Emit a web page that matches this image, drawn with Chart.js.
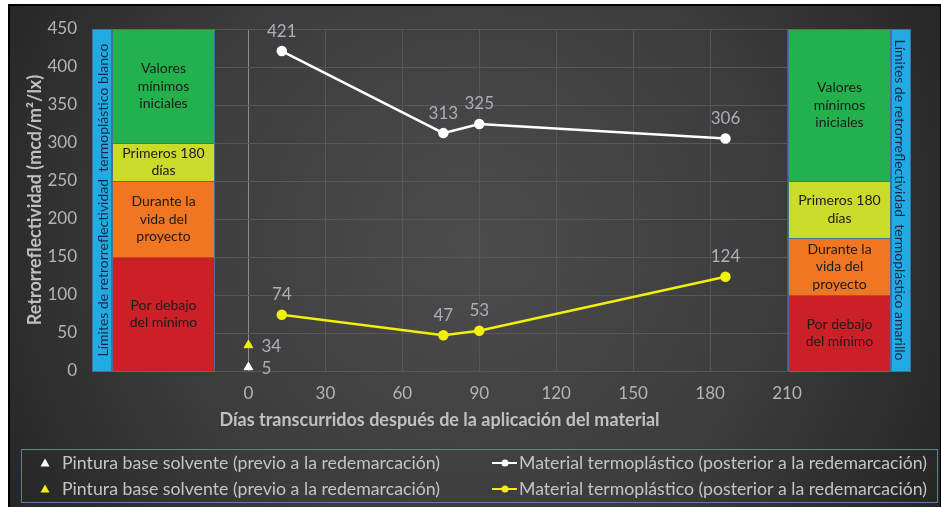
<!DOCTYPE html>
<html>
<head>
<meta charset="utf-8">
<title>Retrorreflectividad</title>
<script src="https://cdn.jsdelivr.net/npm/chart.js@4.4.0/dist/chart.umd.min.js"></script>
<style>
  html, body { margin: 0; padding: 0; background: #ffffff; }
  #wrap { width: 941px; height: 507px; }
</style>
</head>
<body>
<div id="wrap"><canvas id="chart" width="941" height="507"></canvas></div>
<script>
// ---- data ----
const dayTicks = [0, 30, 60, 90, 120, 150, 180, 210];
const valueTicks = [0, 50, 100, 150, 200, 250, 300, 350, 400, 450];
const measureDays = [13, 76, 90, 186];
const whiteThermo = [421, 313, 325, 306];
const yellowThermo = [74, 47, 53, 124];
const paintDays = [0];
const whitePaint = [5];
const yellowPaint = [34];

// limit bands (bottom → top) for each thermoplastic colour
const bandNames = ['Por debajo\ndel mínimo', 'Durante la\nvida del\nproyecto', 'Primeros 180\ndías', 'Valores\nmínimos\niniciales'];
const whiteBandLimits = [0, 150, 250, 300, 450];
const yellowBandLimits = [0, 100, 175, 250, 450];
const whiteBandTitle = 'Límites de retrorreflectividad  termoplástico blanco';
const yellowBandTitle = 'Límites de retrorreflectividad  termoplástico amarillo';

const paintLabel = 'Pintura base solvente (previo a la redemarcación)';
const thermoLabel = 'Material termoplástico (posterior a la redemarcación)';

// ---- styles ----
const FONT = 'Lato, "Open Sans", sans-serif';
const WHITE = '#ffffff';
const YELLOW = '#f0f00a';
const TICK_COLOR = '#b4b4b4';
const bandColors = ['#cb2027', '#f07622', '#cbdb2a', '#22b14c'];
const stripColor = '#22abe2';
const edgeColor = '#4a6f96';

const pts = (xs, ys) => xs.map((x, i) => ({ x: x, y: ys[i] }));

// dark backdrop with frame
const backdrop = {
  id: 'backdrop',
  beforeDraw(chart) {
    const { ctx, width, height } = chart;
    ctx.save();
    ctx.fillStyle = '#ffffff';
    ctx.fillRect(0, 0, width, height);
    const g = ctx.createRadialGradient(470, 240, 0, 470, 240, 560);
    g.addColorStop(0, '#4c4c4c');
    g.addColorStop(0.55, '#3c3c3c');
    g.addColorStop(1, '#232323');
    ctx.fillStyle = g;
    ctx.fillRect(8, 4, width - 8, height - 4);
    ctx.strokeStyle = '#000000';
    ctx.lineWidth = 2;
    ctx.strokeRect(9, 5, width - 9, height - 4);
    ctx.restore();
  }
};

function drawBands(ctx, yScale, x0, w, limits) {
  for (let i = 0; i < bandNames.length; i++) {
    const top = yScale.getPixelForValue(limits[i + 1]);
    const bot = yScale.getPixelForValue(limits[i]);
    ctx.fillStyle = bandColors[i];
    ctx.fillRect(x0, top, w, bot - top);
    ctx.strokeStyle = edgeColor;
    ctx.lineWidth = 1;
    ctx.strokeRect(x0 + 0.5, top + 0.5, w - 1, bot - top);
    const lines = bandNames[i].split('\n');
    ctx.fillStyle = '#1b1b1b';
    ctx.font = '14px ' + FONT;
    ctx.textAlign = 'center';
    ctx.textBaseline = 'middle';
    const lh = 17.5;
    const cy = (top + bot) / 2;
    lines.forEach((t, k) => {
      ctx.fillText(t, x0 + w / 2, cy + (k - (lines.length - 1) / 2) * lh);
    });
  }
}

function drawStrip(ctx, yScale, x0, w, text, rot) {
  const top = yScale.getPixelForValue(450);
  const bot = yScale.getPixelForValue(0);
  ctx.fillStyle = stripColor;
  ctx.fillRect(x0, top, w, bot - top);
  ctx.strokeStyle = edgeColor;
  ctx.lineWidth = 1;
  ctx.strokeRect(x0 + 0.5, top + 0.5, w - 1, bot - top);
  ctx.save();
  ctx.translate(x0 + w / 2, (top + bot) / 2);
  ctx.rotate(rot);
  ctx.fillStyle = '#14284a';
  ctx.font = '14px ' + FONT;
  ctx.textAlign = 'center';
  ctx.textBaseline = 'middle';
  ctx.fillText(text, 0, 1);
  ctx.restore();
}

// limit bands on both sides of the plot
const limitBands = {
  id: 'limitBands',
  beforeDatasetsDraw(chart) {
    const { ctx, chartArea, scales } = chart;
    const y = scales.y;
    ctx.save();
    const stripW = 20, boxW = 103;
    drawStrip(ctx, y, chartArea.left, stripW, whiteBandTitle, -Math.PI / 2);
    drawBands(ctx, y, chartArea.left + stripW, boxW, whiteBandLimits);
    const rx = chartArea.right + 1;
    drawBands(ctx, y, rx, boxW, yellowBandLimits);
    drawStrip(ctx, y, rx + boxW, stripW, yellowBandTitle, Math.PI / 2);
    ctx.restore();
  }
};

// day labels under the x axis, placed by the x scale
const dayLabels = {
  id: 'dayLabels',
  afterDraw(chart) {
    const { ctx, chartArea, scales } = chart;
    ctx.save();
    ctx.font = '17px ' + FONT;
    ctx.fillStyle = TICK_COLOR;
    ctx.textAlign = 'center';
    ctx.textBaseline = 'middle';
    dayTicks.forEach(v => {
      ctx.fillText(String(v), scales.x.getPixelForValue(v), chartArea.bottom + 23);
    });
    ctx.restore();
  }
};

// value labels next to each mark
const valueLabels = {
  id: 'valueLabels',
  afterDatasetsDraw(chart) {
    const { ctx } = chart;
    ctx.save();
    ctx.font = '17px ' + FONT;
    ctx.fillStyle = '#aab0b6';
    chart.data.datasets.forEach((ds, di) => {
      const meta = chart.getDatasetMeta(di);
      meta.data.forEach((el, i) => {
        const v = ds.data[i].y;
        ctx.textBaseline = 'middle';
        if (ds.showLine === false) {
          ctx.textAlign = 'left';
          ctx.fillText(String(v), el.x + 13, el.y + 1);
        } else {
          ctx.textAlign = 'center';
          ctx.fillText(String(v), el.x, el.y - 20);
        }
      });
    });
    ctx.restore();
  }
};

// boxed two-column legend
const boxLegend = {
  id: 'boxLegend',
  afterDraw(chart) {
    const { ctx } = chart;
    const ds = chart.data.datasets;
    ctx.save();
    ctx.strokeStyle = '#5a7fa8';
    ctx.lineWidth = 1;
    ctx.strokeRect(21.5, 449.5, 916, 53);
    ctx.font = '18px ' + FONT;
    ctx.textBaseline = 'middle';
    ctx.textAlign = 'left';
    const rows = [[2, 0], [3, 1]];
    const ys = [463, 489];
    rows.forEach((pair, r) => {
      const yy = ys[r];
      const tri = ds[pair[0]];
      ctx.fillStyle = tri.pointBackgroundColor;
      ctx.beginPath();
      ctx.moveTo(45, yy - 4.5);
      ctx.lineTo(49.5, yy + 3.5);
      ctx.lineTo(40.5, yy + 3.5);
      ctx.closePath();
      ctx.fill();
      ctx.fillStyle = '#c4c4c4';
      ctx.fillText(tri.label, 62, yy, 378);
      const ln = ds[pair[1]];
      ctx.strokeStyle = ln.borderColor;
      ctx.lineWidth = 2;
      ctx.beginPath();
      ctx.moveTo(492, yy);
      ctx.lineTo(517, yy);
      ctx.stroke();
      ctx.fillStyle = ln.pointBackgroundColor;
      ctx.beginPath();
      ctx.arc(505, yy, 3.5, 0, Math.PI * 2);
      ctx.fill();
      ctx.fillStyle = '#c4c4c4';
      ctx.fillText(ln.label, 519, yy, 408);
    });
    ctx.restore();
  }
};

new Chart(document.getElementById('chart'), {
  type: 'line',
  data: {
    datasets: [
      {
        label: thermoLabel,
        data: pts(measureDays, whiteThermo),
        borderColor: WHITE, backgroundColor: WHITE,
        pointBackgroundColor: WHITE, pointBorderColor: WHITE,
        borderWidth: 2.5, pointRadius: 4, tension: 0
      },
      {
        label: thermoLabel,
        data: pts(measureDays, yellowThermo),
        borderColor: YELLOW, backgroundColor: YELLOW,
        pointBackgroundColor: YELLOW, pointBorderColor: YELLOW,
        borderWidth: 2.5, pointRadius: 4, tension: 0
      },
      {
        label: paintLabel,
        data: pts(paintDays, whitePaint),
        showLine: false, pointStyle: 'triangle',
        pointBackgroundColor: WHITE, pointBorderColor: WHITE,
        pointRadius: 5
      },
      {
        label: paintLabel,
        data: pts(paintDays, yellowPaint),
        showLine: false, pointStyle: 'triangle',
        pointBackgroundColor: YELLOW, pointBorderColor: YELLOW,
        pointRadius: 5
      }
    ]
  },
  options: {
    responsive: false,
    animation: false,
    devicePixelRatio: 1,
    layout: { padding: { left: 20, right: 154, top: 29, bottom: 72 } },
    plugins: { legend: { display: false }, tooltip: { enabled: false } },
    scales: {
      x: {
        type: 'linear',
        min: -61, max: 210,
        afterBuildTicks(scale) { scale.ticks = dayTicks.map(v => ({ value: v })); },
        afterFit(scale) { scale.height = 64; },
        border: { display: false },
        grid: {
          drawTicks: false,
          color: ctx => (ctx.tick && ctx.tick.value === 0 ? '#8c8c8c' : '#575757'),
          lineWidth: 1
        },
        ticks: { display: false },
        title: {
          display: true,
          text: 'Días transcurridos después de la aplicación del material',
          color: '#c0c0c0',
          font: { family: FONT, size: 18, weight: 'bold' },
          padding: { top: 4, bottom: 4 }
        }
      },
      y: {
        min: 0, max: 450,
        afterBuildTicks(scale) { scale.ticks = valueTicks.map(v => ({ value: v })); },
        afterFit(scale) { scale.width = 72; },
        border: { display: false },
        grid: { drawTicks: false, color: '#575757', lineWidth: 1 },
        ticks: { color: TICK_COLOR, font: { family: FONT, size: 17 }, padding: 15 },
        title: {
          display: true,
          text: 'Retrorreflectividad (mcd/m²/lx)',
          color: '#c0c0c0',
          font: { family: FONT, size: 18, weight: 'bold' },
          padding: { top: 4, bottom: 4 }
        }
      }
    }
  },
  plugins: [backdrop, limitBands, valueLabels, dayLabels, boxLegend]
});
</script>
</body>
</html>
